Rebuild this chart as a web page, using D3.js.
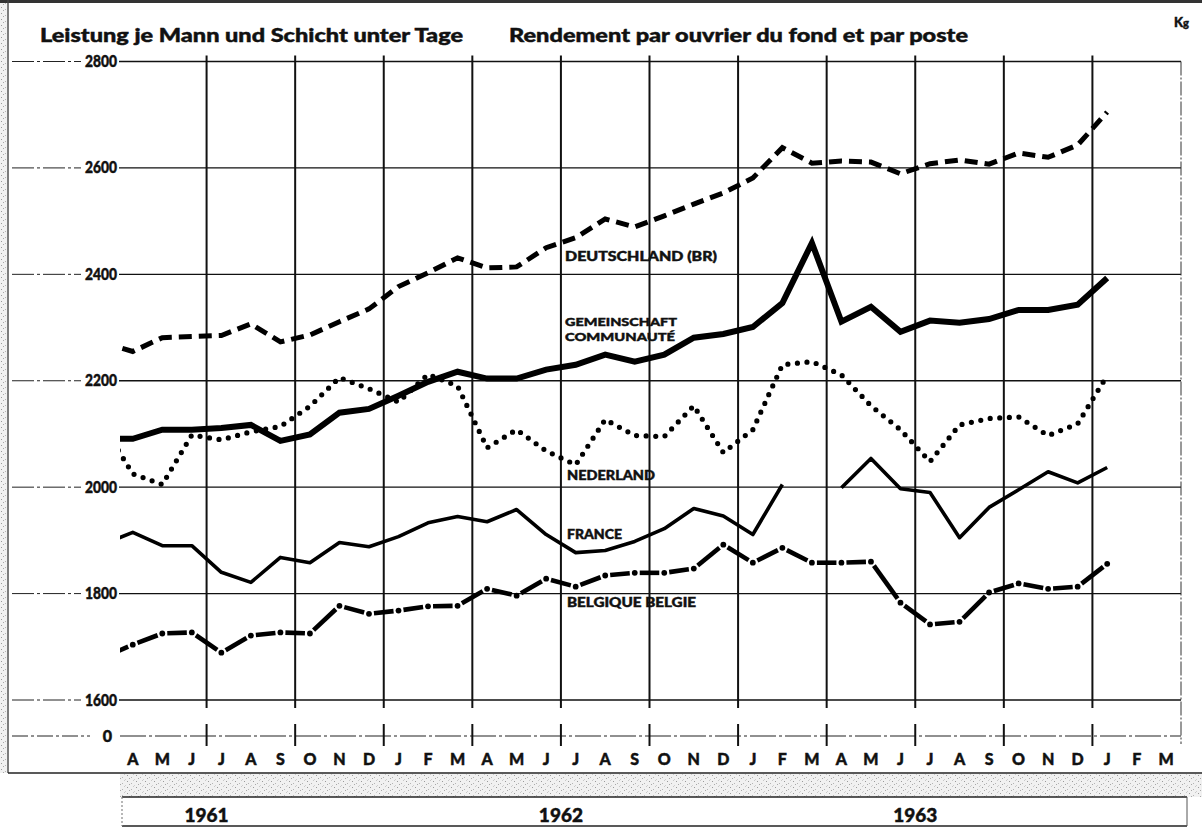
<!DOCTYPE html>
<html><head><meta charset="utf-8">
<script src="https://cdn.jsdelivr.net/npm/d3@7"></script>
<style>
body{margin:0;background:#fff;}
svg{display:block;}
text{font-family:Lato,"Open Sans","DejaVu Sans",sans-serif;font-weight:900;fill:#111;stroke:#111;stroke-width:0.45;}
</style></head><body>
<svg id="c" width="1202" height="832"></svg>
<script>
// ---------- DATA ----------
// Month axis labels: April 1961 .. March 1964
const monthLabels = ["A","M","J","J","A","S","O","N","D",
                     "J","F","M","A","M","J","J","A","S","O","N","D",
                     "J","F","M","A","M","J","J","A","S","O","N","D",
                     "J","F","M"];
const yearLabels = ["1961","1962","1963"];
const yTicks = [1600,1800,2000,2200,2400,2600,2800];
// Series values, monthly, March 1961 .. January 1964 (March 1961 lies before the visible frame)
const deutschland = [2272,2255,2281,2283,2285,2307,2273,2286,2311,2335,
                     2377,2403,2431,2412,2414,2450,2469,2504,2489,2510,2532,2553,
                     2581,2638,2609,2613,2611,2589,2608,2615,2607,2628,2620,2643,
                     2705];
const gemeinschaft = [2091,2091,2108,2108,2111,2117,2087,2099,2140,2147,
                      2172,2198,2217,2204,2204,2221,2230,2249,2236,2249,2281,2288,
                      2301,2346,2459,2311,2339,2292,2313,2309,2316,2333,2333,2343,
                      2393];
const nederland = [2115,2025,2005,2098,2089,2104,2114,2152,2206,2185,
                   2160,2212,2190,2074,2108,2068,2042,2127,2097,2095,2153,2065,
                   2108,2230,2236,2211,2153,2108,2048,2117,2129,2132,2097,2119,
                   2210];
const france = [1893,1915,1890,1890,1840,1821,1868,1858,1896,1888,
                1907,1933,1945,1935,1958,1911,1877,1881,1898,1922,1960,1946,
                1911,2005,null,1999,2054,1997,1990,1905,1962,1995,2029,2008,
                2037];
const belgique = [1680,1704,1725,1727,1689,1721,1727,1725,1777,1762,
                  1768,1776,1777,1809,1796,1828,1813,1834,1839,1839,1847,1892,
                  1858,1886,1858,1858,1860,1783,1742,1747,1802,1819,1809,1813,
                  1856];
const dataStartMonth = -1; // index of the first value relative to April 1961

// ---------- LAYOUT ----------
const svg = d3.select("#c");
const x = d3.scaleLinear().domain([0, 36]).range([118, 1181]);
const y = d3.scaleLinear().domain([1600, 2800]).range([700, 61.5]);
const zeroY = y(1600) + 36;
const gridTop = y(2800) - 6, gridBottom = y(1600) + 8;

// textures
const defs = svg.append("defs");
const pat = defs.append("pattern").attr("id","speck").attr("width",9).attr("height",6)
  .attr("patternUnits","userSpaceOnUse");
pat.append("rect").attr("width",9).attr("height",6).attr("fill","#f1f1f1");
[[1,1,"#9a9a9a"],[5,3,"#b5b5b5"],[7,0,"#c8c8c8"],[3,4,"#a8a8a8"],[8,5,"#cfcfcf"]].forEach(([px,py,c])=>
  pat.append("rect").attr("x",px).attr("y",py).attr("width",1).attr("height",1).attr("fill",c));
defs.append("clipPath").attr("id","plotclip").append("rect")
  .attr("x", x(0) + 2).attr("y", 0).attr("width", 1202).attr("height", 832);

// frame
svg.append("rect").attr("x",0).attr("y",0).attr("width",7).attr("height",773).attr("fill","url(#speck)");
svg.append("rect").attr("x",0).attr("y",0).attr("width",1202).attr("height",3).attr("fill","#333");
svg.append("line").attr("x1",8).attr("x2",8).attr("y1",0).attr("y2",773).attr("stroke","#444").attr("stroke-width",1.4);
svg.append("rect").attr("x",x(0)+2).attr("y",774).attr("width",1202-x(0)).attr("height",23).attr("fill","url(#speck)");
svg.append("line").attr("x1",8).attr("x2",1202).attr("y1",773).attr("y2",773).attr("stroke","#222").attr("stroke-width",1.6);

// titles
svg.append("text").attr("x",40).attr("y",42).attr("font-size",19)
  .attr("textLength",423).attr("lengthAdjust","spacingAndGlyphs")
  .text("Leistung je Mann und Schicht unter Tage");
svg.append("text").attr("x",509).attr("y",42).attr("font-size",19)
  .attr("textLength",459).attr("lengthAdjust","spacingAndGlyphs")
  .text("Rendement par ouvrier du fond et par poste");
const kg = svg.append("text").attr("x",1174).attr("y",27).attr("font-size",13);
kg.append("tspan").text("K");
kg.append("tspan").attr("font-size",11).text("g");

// horizontal grid
const hg = svg.append("g");
yTicks.forEach(v => {
  const yy = y(v);
  hg.append("line").attr("x1",12).attr("x2",81).attr("y1",yy).attr("y2",yy)
    .attr("stroke","#222").attr("stroke-width",1).attr("stroke-dasharray","22,3,3,3");
  hg.append("line").attr("x1",119).attr("x2",x(36)).attr("y1",yy).attr("y2",yy)
    .attr("stroke","#111").attr("stroke-width",1.3);
  hg.append("text").attr("x",117).attr("y",yy+5.5).attr("font-size",16)
    .attr("text-anchor","end").attr("textLength",32).attr("lengthAdjust","spacingAndGlyphs")
    .text(v);
});
// zero line (axis break)
hg.append("line").attr("x1",12).attr("x2",90).attr("y1",zeroY).attr("y2",zeroY)
  .attr("stroke","#222").attr("stroke-width",1).attr("stroke-dasharray","16,3,3,3");
hg.append("line").attr("x1",120).attr("x2",x(36)).attr("y1",zeroY).attr("y2",zeroY)
  .attr("stroke","#222").attr("stroke-width",1.1).attr("stroke-dasharray","26,3,3,3");
hg.append("text").attr("x",112).attr("y",zeroY+5.5).attr("font-size",16)
  .attr("text-anchor","end").text("0");

// vertical quarter grid
const quarters = d3.range(3, 36, 3);
const vg = svg.append("g");
quarters.forEach(m => {
  vg.append("line").attr("x1",x(m)).attr("x2",x(m)).attr("y1",gridTop).attr("y2",gridBottom)
    .attr("stroke","#111").attr("stroke-width",2);
  vg.append("line").attr("x1",x(m)).attr("x2",x(m)).attr("y1",zeroY-12).attr("y2",zeroY+10)
    .attr("stroke","#111").attr("stroke-width",2);
});
vg.append("line").attr("x1",x(36)).attr("x2",x(36)).attr("y1",y(2800)).attr("y2",zeroY+8)
  .attr("stroke","#333").attr("stroke-width",1).attr("stroke-dasharray","14,2,2,2");

// month labels
svg.append("g").selectAll("text").data(monthLabels).join("text")
  .attr("x",(d,i)=>x(i+0.5)).attr("y",765).attr("font-size",16)
  .attr("text-anchor","middle").text(d=>d);

// year box
const yb = svg.append("g");
yb.append("line").attr("x1",x(0)+4).attr("x2",x(36)+6).attr("y1",797).attr("y2",797).attr("stroke","#222").attr("stroke-width",1.6);
yb.append("line").attr("x1",x(0)+4).attr("x2",x(36)+6).attr("y1",826).attr("y2",826).attr("stroke","#222").attr("stroke-width",1.6);
yb.append("line").attr("x1",x(0)+4).attr("x2",x(0)+4).attr("y1",797).attr("y2",826).attr("stroke","#888").attr("stroke-width",1.2).attr("stroke-dasharray","2,2");
yb.append("line").attr("x1",x(36)+6).attr("x2",x(36)+6).attr("y1",797).attr("y2",826).attr("stroke","#555").attr("stroke-width",1);
yearLabels.forEach((t,i)=>{
  yb.append("text").attr("x",x(3 + 12*i)).attr("y",822).attr("font-size",19)
    .attr("text-anchor","middle").text(t);
});

// ---------- SERIES ----------
const plot = svg.append("g").attr("clip-path","url(#plotclip)");
const pts = arr => arr.map((v,i)=>({m: i + dataStartMonth + 0.5, v}));
const line = d3.line().defined(d=>d.v!==null).x(d=>x(d.m)).y(d=>y(d.v));

plot.append("path").attr("d", line(pts(deutschland))).attr("fill","none")
  .attr("stroke","#000").attr("stroke-width",5).attr("stroke-dasharray","13,7");
plot.append("path").attr("d", line(pts(gemeinschaft))).attr("fill","none")
  .attr("stroke","#000").attr("stroke-width",6).attr("stroke-linejoin","miter");
plot.append("path").attr("d", line(pts(nederland))).attr("fill","none")
  .attr("stroke","#000").attr("stroke-width",5.2).attr("stroke-linecap","round")
  .attr("stroke-dasharray","0,9.6");
plot.append("path").attr("d", line(pts(france))).attr("fill","none")
  .attr("stroke","#000").attr("stroke-width",3.6).attr("stroke-linejoin","round");

// Belgique: dash between months, dot at each month
const bp = pts(belgique).map(d=>[x(d.m), y(d.v)]);
const gap = 5;
for (let i = 0; i < bp.length - 1; i++) {
  const [x1,y1] = bp[i], [x2,y2] = bp[i+1];
  const L = Math.hypot(x2-x1, y2-y1), ux = (x2-x1)/L, uy = (y2-y1)/L;
  plot.append("line").attr("x1",x1+ux*gap).attr("y1",y1+uy*gap)
    .attr("x2",x2-ux*gap).attr("y2",y2-uy*gap)
    .attr("stroke","#000").attr("stroke-width",4.6);
}
plot.selectAll("circle.b").data(bp.slice(1)).join("circle").attr("class","b")
  .attr("cx",d=>d[0]).attr("cy",d=>d[1]).attr("r",2.9).attr("fill","#000");

// series labels
const labels = [
  {t:"DEUTSCHLAND  (BR)", px:565, py:261, w:152, fs:13},
  {t:"GEMEINSCHAFT", px:565, py:325.5, w:112, fs:12},
  {t:"COMMUNAUTÉ", px:565, py:340.5, w:110, fs:12},
  {t:"NEDERLAND", px:567, py:480, w:88, fs:13},
  {t:"FRANCE", px:567, py:539, w:55, fs:13},
  {t:"BELGIQUE BELGIE", px:567, py:607, w:129, fs:13}
];
svg.append("g").selectAll("text").data(labels).join("text")
  .attr("x",d=>d.px).attr("y",d=>d.py).attr("font-size",d=>d.fs)
  .attr("textLength",d=>d.w).attr("lengthAdjust","spacingAndGlyphs")
  .text(d=>d.t);
</script>
</body></html>
